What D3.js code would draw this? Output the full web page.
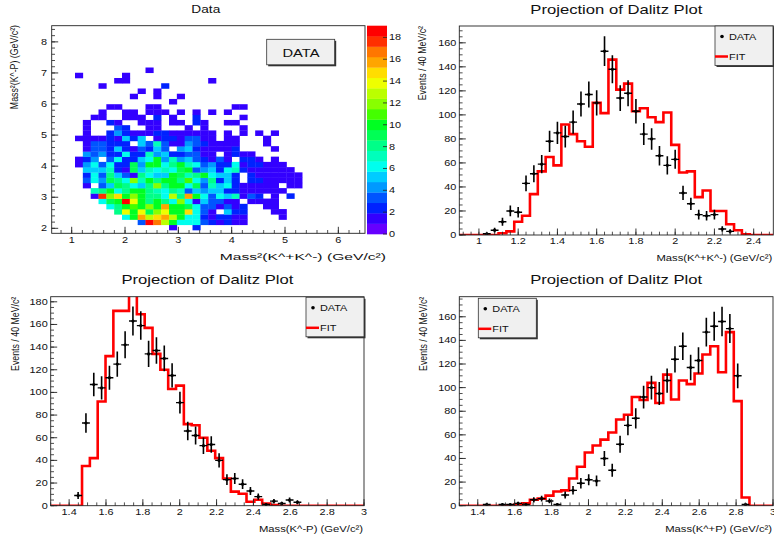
<!DOCTYPE html>
<html>
<head>
<meta charset="utf-8">
<script src="https://cdn.jsdelivr.net/npm/d3@7"></script>
<style>
  body { margin: 0; background: #fff; }
  svg { font-family: "Liberation Sans", Arial, sans-serif; }
</style>
</head>
<body>
<svg id="chart" width="774" height="544"></svg>
<script>
// ---- Dalitz plot cells (row 0 = lowest row, one char per column; '.'=0, 1-9, a=10 ... j=19)
const heatRows = [
  "............1..2..............",
  "........3jhda666321211........",
  "......6agdfgda66212211....1...",
  ".....8eae9ceaaf631.522...11...",
  "....68abacagaa96331312..11....",
  "...69ajea8a86c6153311.1111....",
  "..1icfaca886d8ga63657132.1.2..",
  "..78a68aa876873545522111111...",
  ".1.3598658c8aa693756211111.11.",
  ".364986c7a8aa8b648252.2211111.",
  ".26385318655a978a6552.2111111.",
  ".5557219576769a3452672111111..",
  "146362294aa68a7634226122111...",
  "124.362256a474532131.221.1....",
  ".43422622745223311.1211.......",
  ".13325213253.45211112....1....",
  ".133222.5373114321111...1.....",
  "111121525.12213311.11...1.....",
  ".1..24211122111111.1.1.1.1....",
  ".1...32..11...1.1....1........",
  ".1..21..111.11.21..11.........",
  "..11..111.2.1..2.....1........",
  "...1..11.111.1.1.1.1..........",
  "....11...11.........11........",
  "............1.................",
  ".......1..1..1................",
  "........1.1...................",
  "...1.......2..................",
  ".....11..........1............",
  "1.....1.......................",
  ".........1...................."
];
const heatX0 = 1.062, heatDX = 0.1469;   // first column edge, column width (GeV^2)
const heatY0 = 1.945, heatDY = 0.1687;   // first row edge, row height (GeV^2)
const zMax = 19.07;
const palette = ["#6600ff","#3300ff","#0022ff","#0055ff","#0099ff","#00ccff","#00ffee","#00ffbb",
  "#00ff88","#00ff55","#00ff22","#44ff00","#88ff00","#bbff00","#eeff00","#ffdd00","#ffa500",
  "#ff7700","#ff3000","#ff0000"];
const zTicks = [0, 2, 4, 6, 8, 10, 12, 14, 16, 18];

// ---- Projection Mass(K+K-): 40 bins of 0.04 from 0.9
const kkData = [null,null,null,1,4,11,20,19,43,51,59,78,85,82,94,109,117,110,153,138,
  114,118,103,84,80,66,58,63,35,26,17,16,17,5,3,null,null,null,null,null];
const kkFit = [0,0,0,0,0,1.5,3,11,16,34,53,65,58,92,84,78,73.5,110,101.5,146,
  121,126,103,105.5,98,94,102,75,52,53,31.5,37,20,20,9,4,0.5,0,0,0];

// ---- Projection Mass(K-P): 40 bins of 0.0425 from 1.3
const kmpData = [null,null,null,9,73,107,104,113,125,142,163,159,134,137,130,115,91,66,62,53,
  54,40,23,24,19,13,8,1,4,2,5,3,null,null,null,null,null,null,null,null];
const kmpFit = [0,0,0,0,35,42,92,132,172,172,195,169,157,134,120,103,106,72,71,60,
  48.5,42,24,12.4,10.6,3.5,5.3,2,0.5,0,0,0,0,0,0,0,0,0,0,0];

// ---- Projection Mass(K+P): 40 bins of 0.0425 from 1.3
const kppData = [null,null,null,1,null,1,1,2,1,5,6,4,1,9,13,19,22,21,40,30,
  52,68,74,92,100,95,106,124,135,117,123,147,152,156,150,110,1,null,null,null];
const kppFit = [0,0,0,0,0,0,0.3,1,2,5,6,8.5,12,13,23,33,45,51,56,62,
  73,77,92,89.5,104,87,111,90,106,103,112,128,135,113,147,88.6,7,0,0,0];

const svg = d3.select("#chart");
const SX = 1.28; // the picture is stretched horizontally

function txt(g, x, y, s, size, anchor, rot, sx) {
  return g.append("text")
    .attr("transform", `translate(${x},${y}) scale(${sx || SX},1)` + (rot ? " rotate(-90)" : ""))
    .attr("font-size", size)
    .attr("text-anchor", anchor || "start")
    .attr("fill", "#111")
    .text(s);
}

function axisX(g, x, yPos, majors, minors, fmt, labelY) {
  minors.forEach(v => g.append("line").attr("x1", x(v)).attr("x2", x(v))
    .attr("y1", yPos).attr("y2", yPos - 3.3).attr("stroke", "#222").attr("stroke-width", 0.8));
  majors.forEach(v => {
    g.append("line").attr("x1", x(v)).attr("x2", x(v))
      .attr("y1", yPos).attr("y2", yPos - 6.5).attr("stroke", "#222").attr("stroke-width", 0.9);
    txt(g, x(v), labelY, fmt(v), 8.5, "middle");
  });
}

function axisY(g, y, xPos, majors, minors, fmt, labelX) {
  minors.forEach(v => g.append("line").attr("x1", xPos).attr("x2", xPos + 3.3)
    .attr("y1", y(v)).attr("y2", y(v)).attr("stroke", "#222").attr("stroke-width", 0.8));
  majors.forEach(v => {
    g.append("line").attr("x1", xPos).attr("x2", xPos + 6.5)
      .attr("y1", y(v)).attr("y2", y(v)).attr("stroke", "#222").attr("stroke-width", 0.9);
    txt(g, labelX, y(v) + 3, fmt(v), 8.5, "end");
  });
}

function steps(lo, hi, st) {
  const out = [];
  for (let i = 0; lo + i * st <= hi + 1e-9; i++) out.push(+(lo + i * st).toFixed(4));
  return out;
}

function legend(g, bx, by, w, h) {
  g.append("rect").attr("x", bx + 1.5).attr("y", by + 1.5).attr("width", w).attr("height", h).attr("fill", "#333");
  g.append("rect").attr("x", bx).attr("y", by).attr("width", w).attr("height", h)
    .attr("fill", "#f0f0f0").attr("stroke", "#333").attr("stroke-width", 0.8);
  g.append("circle").attr("cx", bx + 7).attr("cy", by + 10.5).attr("r", 1.8).attr("fill", "#000");
  txt(g, bx + 14, by + 14, "DATA", 8.5);
  g.append("line").attr("x1", bx).attr("x2", bx + 13).attr("y1", by + 30.5).attr("y2", by + 30.5)
    .attr("stroke", "#f00").attr("stroke-width", 2.5);
  txt(g, bx + 14, by + 34, "FIT", 8.5);
}

// ================= Dalitz plot =================
(function () {
  const L = 51.7, R = 365, T = 25.7, B = 233.3;
  const g = svg.append("g");
  const x = d3.scaleLinear().domain([0.625, 6.5]).range([L, R]);
  const y = d3.scaleLinear().domain([1.84, 8.52]).range([B, T]);
  const cells = [];
  heatRows.forEach((row, r) => row.split("").forEach((ch, c) => {
    const v = ch === "." ? 0 : parseInt(ch, 36);
    if (v > 0) cells.push({ r, c, v });
  }));
  g.append("g").selectAll("rect").data(cells).join("rect")
    .attr("x", d => x(heatX0 + d.c * heatDX))
    .attr("y", d => y(heatY0 + (d.r + 1) * heatDY))
    .attr("width", x(heatX0 + heatDX) - x(heatX0) + 0.3)
    .attr("height", y(heatY0) - y(heatY0 + heatDY) + 0.3)
    .attr("fill", d => palette[Math.min(19, Math.floor(d.v * 20 / zMax))]);

  g.append("rect").attr("x", L).attr("y", T).attr("width", R - L).attr("height", B - T)
    .attr("fill", "none").attr("stroke", "#222").attr("stroke-width", 0.9);
  axisX(g, x, B, steps(1, 6, 1), steps(0.8, 6.4, 0.2), d => d, 243);
  axisY(g, y, L, steps(2, 8, 1), steps(2, 8.4, 0.2), d => d, 47);

  // colour bar
  const z = d3.scaleLinear().domain([0, zMax]).range([234, T]);
  g.append("g").selectAll("rect").data(palette).join("rect")
    .attr("x", 367).attr("width", 20)
    .attr("y", (d, i) => z((i + 1) * zMax / 20))
    .attr("height", z(0) - z(zMax / 20) + 0.3)
    .attr("fill", d => d);
  zTicks.forEach(v => {
    g.append("line").attr("x1", 383).attr("x2", 387).attr("y1", z(v)).attr("y2", z(v))
      .attr("stroke", "#222").attr("stroke-width", 0.8);
    txt(g, 389, z(v) + 3, v, 8.5);
  });

  // DATA box
  g.append("rect").attr("x", 268.2).attr("y", 40.8).attr("width", 68).attr("height", 25.5).attr("fill", "#333");
  g.append("rect").attr("x", 266.7).attr("y", 39.3).attr("width", 68).attr("height", 25.5)
    .attr("fill", "#f0f0f0").attr("stroke", "#333").attr("stroke-width", 0.8);
  txt(g, 301, 56.5, "DATA", 11.5, "middle");

  txt(g, 205.8, 12.7, "Data", 10.7, "middle");
  txt(g, 386, 260, "Mass²(K^+K^-) (GeV/c²)", 9.2, "end", false, 1.7);
  txt(g, 18, 25, "Mass²(K^-P) (GeV/c²)", 8.8, "end", true);
})();

// ================= projections =================
function projection(o) {
  const g = svg.append("g");
  const x = d3.scaleLinear().domain([o.x0, o.x0 + 40 * o.w]).range([o.L, o.R]);
  const y = d3.scaleLinear().domain([0, o.yMax]).range([o.B, o.T]);
  const clipId = "clip" + Math.round(o.L) + Math.round(o.T);
  g.append("clipPath").attr("id", clipId).append("rect")
    .attr("x", o.L).attr("y", o.T).attr("width", o.R - o.L).attr("height", o.B - o.T);

  // fit histogram
  const pts = [];
  o.fit.forEach((v, i) => { pts.push([o.x0 + i * o.w, v], [o.x0 + (i + 1) * o.w, v]); });
  g.append("path").attr("clip-path", `url(#${clipId})`)
    .attr("d", d3.line().x(d => x(d[0])).y(d => y(d[1]))(pts))
    .attr("fill", "none").attr("stroke", "#f00").attr("stroke-width", 2.6);

  // data points
  const pd = o.data.map((v, i) => ({ c: o.x0 + (i + 0.5) * o.w, v })).filter(d => d.v != null);
  const pg = g.append("g").attr("clip-path", `url(#${clipId})`);
  pg.selectAll("line.ev").data(pd).join("line").attr("class", "ev")
    .attr("x1", d => x(d.c)).attr("x2", d => x(d.c))
    .attr("y1", d => y(d.v - Math.sqrt(d.v))).attr("y2", d => y(d.v + Math.sqrt(d.v)))
    .attr("stroke", "#000").attr("stroke-width", 1.6);
  pg.selectAll("line.eh").data(pd).join("line").attr("class", "eh")
    .attr("x1", d => x(d.c - o.w / 2)).attr("x2", d => x(d.c + o.w / 2))
    .attr("y1", d => y(d.v)).attr("y2", d => y(d.v))
    .attr("stroke", "#000").attr("stroke-width", 1.4);
  pg.selectAll("circle").data(pd).join("circle")
    .attr("cx", d => x(d.c)).attr("cy", d => y(d.v)).attr("r", 1.6).attr("fill", "#000");

  g.append("rect").attr("x", o.L).attr("y", o.T).attr("width", o.R - o.L).attr("height", o.B - o.T)
    .attr("fill", "none").attr("stroke", "#222").attr("stroke-width", 0.9);
  axisX(g, x, o.B, o.xMaj, o.xMin, d => d, o.B + 9);
  axisY(g, y, o.L, steps(0, o.yMax, 20), steps(0, o.yMax, 5), d => d, o.L - 3);

  legend(g, o.legX, o.legY, 58, 39.5);
  txt(g, (o.L + o.R) / 2, o.T - 12.5, "Projection of Dalitz Plot", 13, "middle");
  txt(g, o.R - 1, o.B + 26, o.xTitle, 8.8, "end");
  txt(g, o.yTitleX, o.T, "Events / 40 MeV/c²", 8.8, "end", true);
}

projection({
  L: 459.3, R: 773.3, T: 26, B: 235, x0: 0.9, w: 0.04, yMax: 174,
  data: kkData, fit: kkFit,
  xMaj: steps(1, 2.4, 0.2), xMin: steps(0.92, 2.48, 0.04),
  legX: 715, legY: 26, xTitle: "Mass(K^+K^-) (GeV/c²)", yTitleX: 426
});
projection({
  L: 50.7, R: 364, T: 296.7, B: 505.7, x0: 1.3, w: 0.0425, yMax: 184.5,
  data: kmpData, fit: kmpFit,
  xMaj: steps(1.4, 3.0, 0.2), xMin: steps(1.3, 3.0, 0.05),
  legX: 306, legY: 297.3, xTitle: "Mass(K^-P) (GeV/c²)", yTitleX: 19
});
projection({
  L: 459.3, R: 773, T: 296.7, B: 505.7, x0: 1.3, w: 0.0425, yMax: 177,
  data: kppData, fit: kppFit,
  xMaj: steps(1.4, 3.0, 0.2), xMin: steps(1.3, 3.0, 0.05),
  legX: 478.3, legY: 298.3, xTitle: "Mass(K^+P) (GeV/c²)", yTitleX: 427
});
</script>
</body>
</html>
